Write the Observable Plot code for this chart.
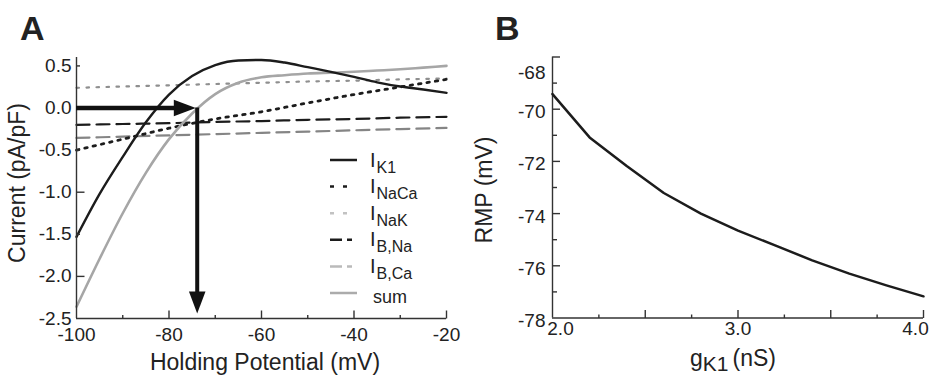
<!DOCTYPE html>
<html><head><meta charset="utf-8">
<script src="https://cdn.jsdelivr.net/npm/d3@7"></script>
<script src="https://cdn.jsdelivr.net/npm/@observablehq/plot@0.6"></script>
<style>
html,body{margin:0;padding:0;background:#fff;}
#wrap{position:relative;width:935px;height:377px;overflow:hidden;font-family:"Liberation Sans",Arial,Helvetica,sans-serif;color:#222;}
#panelA,#panelB{position:absolute;top:0;}
#panelA{left:0;width:470px;}
#panelB{left:470px;width:465px;}
#overlay{position:absolute;left:0;top:0;pointer-events:none;}
</style></head><body>
<div id="wrap"><div id="panelA"></div><div id="panelB"></div><svg id="overlay" width="935" height="377"></svg></div>
<script>
// ---------- Panel A data ----------
const voltage = [-100,-95,-90,-85,-80,-75,-70,-65,-60,-55,-50,-45,-40,-35,-30,-25,-20];
const iK1  = [-1.53,-1.02,-0.58,-0.17,0.16,0.38,0.51,0.565,0.57,0.54,0.485,0.43,0.37,0.305,0.255,0.22,0.18];
const iSum = [-2.36,-1.79,-1.25,-0.77,-0.37,-0.065,0.165,0.30,0.365,0.39,0.41,0.42,0.43,0.445,0.46,0.48,0.50];
const voltage10 = [-100,-90,-80,-70,-60,-50,-40,-30,-20];
const iNaCa = [-0.50,-0.37,-0.24,-0.13,-0.045,0.06,0.16,0.25,0.34];
const iNaK  = [0.24,0.255,0.27,0.285,0.30,0.315,0.325,0.34,0.35];
const iBNa  = [-0.20,-0.19,-0.18,-0.165,-0.155,-0.14,-0.13,-0.115,-0.105];
const iBCa  = [-0.355,-0.34,-0.325,-0.31,-0.295,-0.28,-0.265,-0.25,-0.237];
const restCross = -73.9;   // mV where sum crosses 0
const arrowFloor = -2.44;  // arrow tip current
const xLabelsA = [-100,-80,-60,-40,-20];
const yLabelsA = [0.5,0.0,-0.5,-1.0,-1.5,-2.0,-2.5];
const xMajorA = [-80,-60,-40,-20], xMinorA = [-90,-70,-50,-30];
const yMajorA = [0,-1,-2], yMinorA = [0.5,-0.5,-1.5];
const legendLabels = [["I","K1"],["I","NaCa"],["I","NaK"],["I","B,Na"],["I","B,Ca"],["","sum"]];

// ---------- Panel B data ----------
const gK1 = [2.0,2.2,2.4,2.6,2.8,3.0,3.2,3.4,3.6,3.8,4.0];
const rmp = [-69.42,-71.08,-72.18,-73.21,-74.0,-74.65,-75.22,-75.79,-76.30,-76.75,-77.17];
const yLabelsB = [-70,-72,-74,-76,-78];
const yMajorB = [-68,-70,-72,-74,-76], yMinorB = [-69,-71,-73,-75,-77];
const xMajorB = [2.5,3,3.5,4], xMinorB = [2.25,2.75,3.25,3.75];

const FONT = '"Liberation Sans",Arial,Helvetica,sans-serif';
const INK = "#222";
const tickUp = len => ({draw(c){c.moveTo(0,0); c.lineTo(0,-len);}});
const tickRight = len => ({draw(c){c.moveTo(0,0); c.lineTo(len,0);}});
const headRight = {draw(c){c.moveTo(0,0); c.lineTo(-22,-8.3); c.lineTo(-22,8.3); c.closePath();}};
const headDown = {draw(c){c.moveTo(0,0); c.lineTo(-8.3,-22); c.lineTo(8.3,-22); c.closePath();}};

const seriesA = [
  {name:"NaK",  xs: voltage10, ys: iNaK,  stroke:"#8f8f8f", w:2.2, dash:"2.5,7.5", lstroke:"#c2c2c2", ldash:"4,9"},
  {name:"BCa",  xs: voltage10, ys: iBCa,  stroke:"#858585", w:2.2, dash:"13,7",   lstroke:"#bababa", ldash:"12,5"},
  {name:"BNa",  xs: voltage10, ys: iBNa,  stroke:"#1c1c1c", w:2.2, dash:"13,7",   lstroke:"#1c1c1c", ldash:"12,5"},
  {name:"NaCa", xs: voltage10, ys: iNaCa, stroke:"#1c1c1c", w:2.8, dash:"2.5,6",  lstroke:"#1c1c1c", ldash:"4,9"},
  {name:"sum",  xs: voltage,   ys: iSum,  stroke:"#a6a6a6", w:2.6, dash:null,     lstroke:"#ababab", ldash:null},
  {name:"K1",   xs: voltage,   ys: iK1,   stroke:"#1c1c1c", w:2.4, dash:null,     lstroke:"#1c1c1c", ldash:null}
];
const legendOrder = ["K1","NaCa","NaK","BNa","BCa","sum"];

const tickMarks = (xs, ys, sym) => Plot.dot(xs.map((x,i)=>({x, y: ys[i]})), {x:"x", y:"y", symbol: sym, r: 1, fill:"none", stroke:"#333", strokeWidth:1.4});

const lineMarks = seriesA.map(s => Plot.line(s.xs.map((v,i)=>({v, c: s.ys[i]})), {
  x:"v", y:"c", stroke: s.stroke, strokeWidth: s.w, strokeDasharray: s.dash, curve:"monotone-x"
}));

const plotA = Plot.plot({
  width:470, height:377, marginLeft:76, marginRight:24, marginTop:57, marginBottom:59,
  x:{domain:[-100,-20]}, y:{domain:[-2.5,0.6]},
  style:{fontFamily:FONT, fontSize:"19px", color:INK, background:"transparent", overflow:"visible"},
  marks:[
    ...lineMarks,
    Plot.axisX({ticks:xLabelsA, tickSize:0, tickPadding:9, tickFormat:d=>String(d), label:null, fontSize:19}),
    Plot.axisY({ticks:yLabelsA, tickSize:0, tickPadding:5, tickFormat:d=>d.toFixed(1), label:null, fontSize:19}),
    Plot.ruleX([-100], {stroke:"#333", strokeWidth:1.4}),
    Plot.ruleY([-2.5], {stroke:"#333", strokeWidth:1.4}),
    tickMarks(xMajorA, xMajorA.map(()=>-2.5), tickUp(8)),
    tickMarks(xMinorA, xMinorA.map(()=>-2.5), tickUp(3.5)),
    tickMarks(yMajorA.map(()=>-100), yMajorA, tickRight(8)),
    tickMarks(yMinorA.map(()=>-100), yMinorA, tickRight(3.5)),
    Plot.ruleY([0], {x1:-100, x2:restCross-3, stroke:"#111", strokeWidth:4.5}),
    Plot.ruleX([restCross], {y1:0, y2:arrowFloor+0.15, stroke:"#111", strokeWidth:4}),
    Plot.dot([{v:restCross-0.3, c:0}], {x:"v", y:"c", symbol:headRight, r:5, fill:"#111", stroke:"none"}),
    Plot.dot([{v:restCross, c:arrowFloor}], {x:"v", y:"c", symbol:headDown, r:5, fill:"#111", stroke:"none"})
  ]
});
document.getElementById("panelA").appendChild(plotA);

const dataB = gK1.map((g,i)=>({g, r: rmp[i]}));
const axOpts = {tickSize:0, label:null, fontSize:19};
const plotB = Plot.plot({
  width:465, height:377, marginLeft:82, marginRight:12, marginTop:56.5, marginBottom:59.5,
  x:{domain:[2,4]}, y:{domain:[-78,-68]},
  style:{fontFamily:FONT, fontSize:"19px", color:INK, background:"transparent", overflow:"visible"},
  marks:[
    Plot.axisY({...axOpts, ticks:yLabelsB, tickPadding:7, tickFormat:d=>String(d), dy:3}),
    Plot.axisY({...axOpts, ticks:[-68], tickPadding:7, tickFormat:d=>String(d), dy:16}),
    Plot.axisX({...axOpts, ticks:[3], tickPadding:3, tickFormat:d=>d.toFixed(1)}),
    Plot.axisX({...axOpts, ticks:[2], tickPadding:3, tickFormat:d=>d.toFixed(1), dx:8}),
    Plot.axisX({...axOpts, ticks:[4], tickPadding:3, tickFormat:d=>d.toFixed(1), dx:-8}),
    Plot.ruleX([2], {stroke:"#333", strokeWidth:1.4}),
    Plot.ruleY([-78], {stroke:"#333", strokeWidth:1.4}),
    tickMarks(xMajorB, xMajorB.map(()=>-78), tickUp(8)),
    tickMarks(xMinorB, xMinorB.map(()=>-78), tickUp(3.5)),
    tickMarks(yMajorB.map(()=>2), yMajorB, tickRight(7.5)),
    tickMarks(yMinorB.map(()=>2), yMinorB, tickRight(4.5)),
    Plot.line(dataB, {x:"g", y:"r", stroke:"#1c1c1c", strokeWidth:2.5})
  ]
});
document.getElementById("panelB").appendChild(plotB);

// ---------- overlay: panel letters, axis titles, legend ----------
const ov = d3.select("#overlay").attr("font-family", FONT).attr("fill", INK);
ov.append("text").attr("x",20).attr("y",40).attr("font-size",34).attr("font-weight","bold").text("A");
ov.append("text").attr("x",495).attr("y",40).attr("font-size",34).attr("font-weight","bold").text("B");
ov.append("text").attr("transform","translate(24.5,183) rotate(-90)").attr("text-anchor","middle").attr("font-size",23).text("Current (pA/pF)");
ov.append("text").attr("transform","translate(491.5,190) rotate(-90)").attr("text-anchor","middle").attr("font-size",23).text("RMP (mV)");
ov.append("text").attr("x",265).attr("y",370).attr("text-anchor","middle").attr("font-size",23).text("Holding Potential (mV)");
const gt = ov.append("text").attr("x",690).attr("y",366).attr("font-size",23);
gt.append("tspan").text("g");
gt.append("tspan").attr("dy",5).attr("font-size",21).text("K1");
gt.append("tspan").attr("dy",-5).attr("dx",4).text("(nS)");

legendOrder.forEach((key, i) => {
  const s = seriesA.find(d => d.name === key);
  const y = 160 + i*26.6;
  const solid = !s.ldash;
  ov.append("line").attr("x1",330).attr("x2", solid ? 357 : 352).attr("y1",y).attr("y2",y)
    .attr("stroke", s.lstroke).attr("stroke-width", 2.5).attr("stroke-dasharray", s.ldash);
  const lab = legendLabels[i];
  if (lab[0]) {
    const t = ov.append("text").attr("x",370).attr("y",y+6.5).attr("font-size",20);
    t.append("tspan").text(lab[0]);
    t.append("tspan").attr("dy",6).attr("dx",1).attr("font-size",16).text(lab[1]);
  } else {
    ov.append("text").attr("x",373).attr("y",y+10).attr("font-size",18).text(lab[1]);
  }
});
</script>
</body></html>
